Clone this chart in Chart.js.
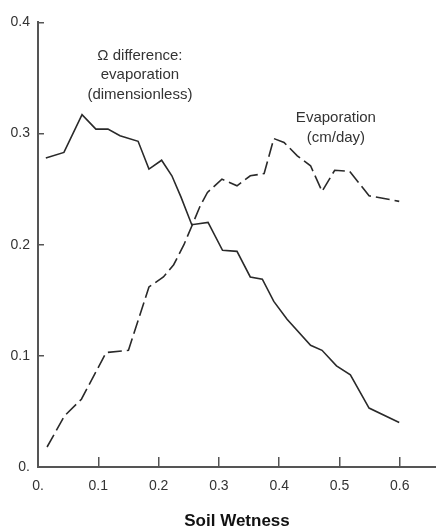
<!DOCTYPE html>
<html>
<head>
<meta charset="utf-8">
<script src="https://cdn.jsdelivr.net/npm/chart.js@4"></script>
<style>
  html, body { margin: 0; padding: 0; background: #fff; }
  #wrap { width: 436px; height: 529px; }
</style>
</head>
<body>
<div id="wrap"><canvas id="cht"></canvas></div>
<script>
// soil wetness (x) and values
var omegaX = [0.013, 0.043, 0.073, 0.096, 0.116, 0.136, 0.166, 0.184, 0.205, 0.222, 0.237, 0.255, 0.282, 0.306, 0.330, 0.352, 0.372, 0.391, 0.413, 0.452, 0.471, 0.495, 0.518, 0.549, 0.599];
var omegaY = [0.278, 0.283, 0.317, 0.304, 0.304, 0.298, 0.293, 0.268, 0.276, 0.262, 0.243, 0.218, 0.220, 0.195, 0.194, 0.171, 0.169, 0.149, 0.133, 0.1095, 0.105, 0.091, 0.083, 0.053, 0.040];

var evapX = [0.015, 0.044, 0.072, 0.113, 0.150, 0.184, 0.208, 0.225, 0.242, 0.256, 0.269, 0.281, 0.305, 0.330, 0.352, 0.375, 0.391, 0.408, 0.430, 0.452, 0.471, 0.492, 0.517, 0.549, 0.599];
var evapY = [0.018, 0.046, 0.061, 0.103, 0.105, 0.162, 0.171, 0.182, 0.200, 0.218, 0.235, 0.247, 0.259, 0.253, 0.262, 0.264, 0.2955, 0.292, 0.280, 0.271, 0.248, 0.267, 0.266, 0.244, 0.239];

var xTicks = [0, 0.1, 0.2, 0.3, 0.4, 0.5, 0.6];
var xTickLabels = ['0.', '0.1', '0.2', '0.3', '0.4', '0.5', '0.6'];
var yTicks = [0, 0.1, 0.2, 0.3, 0.4];
var yTickLabels = ['0.', '0.1', '0.2', '0.3', '0.4'];

// curve labels, anchored in data units
var notes = [
  { x: 0.169, y: 0.370, lines: ['\u03A9 difference:', 'evaporation', '(dimensionless)'] },
  { x: 0.494, y: 0.314, lines: ['Evaporation', '(cm/day)'] }
];

var fam = '"Liberation Sans", Arial, Helvetica, sans-serif';

function pts(xs, ys) {
  var out = [];
  for (var i = 0; i < xs.length; i++) out.push({ x: xs[i], y: ys[i] });
  return out;
}

var notePlugin = {
  id: 'notes',
  afterDatasetsDraw: function (chart) {
    var ctx = chart.ctx, sx = chart.scales.x, sy = chart.scales.y;
    ctx.save();
    ctx.fillStyle = '#333';
    ctx.font = '15px ' + fam;
    ctx.textAlign = 'center';
    ctx.textBaseline = 'middle';
    notes.forEach(function (n) {
      var px = sx.getPixelForValue(n.x), py = sy.getPixelForValue(n.y);
      n.lines.forEach(function (t, i) { ctx.fillText(t, px, py + i * 19.5); });
    });
    ctx.restore();
  }
};

new Chart(document.getElementById('cht'), {
  type: 'line',
  data: {
    datasets: [
      { label: 'Omega difference', data: pts(omegaX, omegaY), borderColor: '#2a2a2a', borderWidth: 1.6, pointRadius: 0, fill: false, tension: 0 },
      { label: 'Evaporation', data: pts(evapX, evapY), borderColor: '#2a2a2a', borderWidth: 1.6, borderDash: [14, 5], pointRadius: 0, fill: false, tension: 0 }
    ]
  },
  options: {
    responsive: true,
    maintainAspectRatio: false,
    animation: false,
    events: [],
    layout: { padding: { top: 19, right: 0, left: 0, bottom: 0 } },
    plugins: { legend: { display: false }, tooltip: { enabled: false } },
    scales: {
      x: {
        type: 'linear', min: 0, max: 0.66,
        afterBuildTicks: function (s) { s.ticks = xTicks.map(function (v) { return { value: v }; }); },
        afterFit: function (s) { s.height = 62; },
        grid: { drawOnChartArea: false, drawTicks: true, tickLength: -10, color: '#555', lineWidth: 1.5 },
        border: { display: true, color: '#555', width: 2 },
        ticks: {
          color: '#333', padding: 20.5, maxRotation: 0,
          font: { family: fam, size: 14 },
          callback: function (v, i) { return xTickLabels[i]; }
        },
        title: { display: true, text: 'Soil Wetness', color: '#111', padding: { top: 0, bottom: -1 }, font: { family: fam, size: 17, weight: 'bold', lineHeight: 1 } }
      },
      y: {
        type: 'linear', min: 0, max: 0.4,
        afterBuildTicks: function (s) { s.ticks = yTicks.map(function (v) { return { value: v }; }); },
        afterFit: function (s) { s.width = 38; },
        grid: { drawOnChartArea: false, drawTicks: true, tickLength: -6, color: '#555', lineWidth: 1.5 },
        border: { display: true, color: '#555', width: 2 },
        ticks: {
          color: '#333', padding: 14,
          font: { family: fam, size: 14 },
          callback: function (v, i) { return yTickLabels[i]; }
        }
      }
    }
  },
  plugins: [notePlugin]
});
</script>
</body>
</html>
